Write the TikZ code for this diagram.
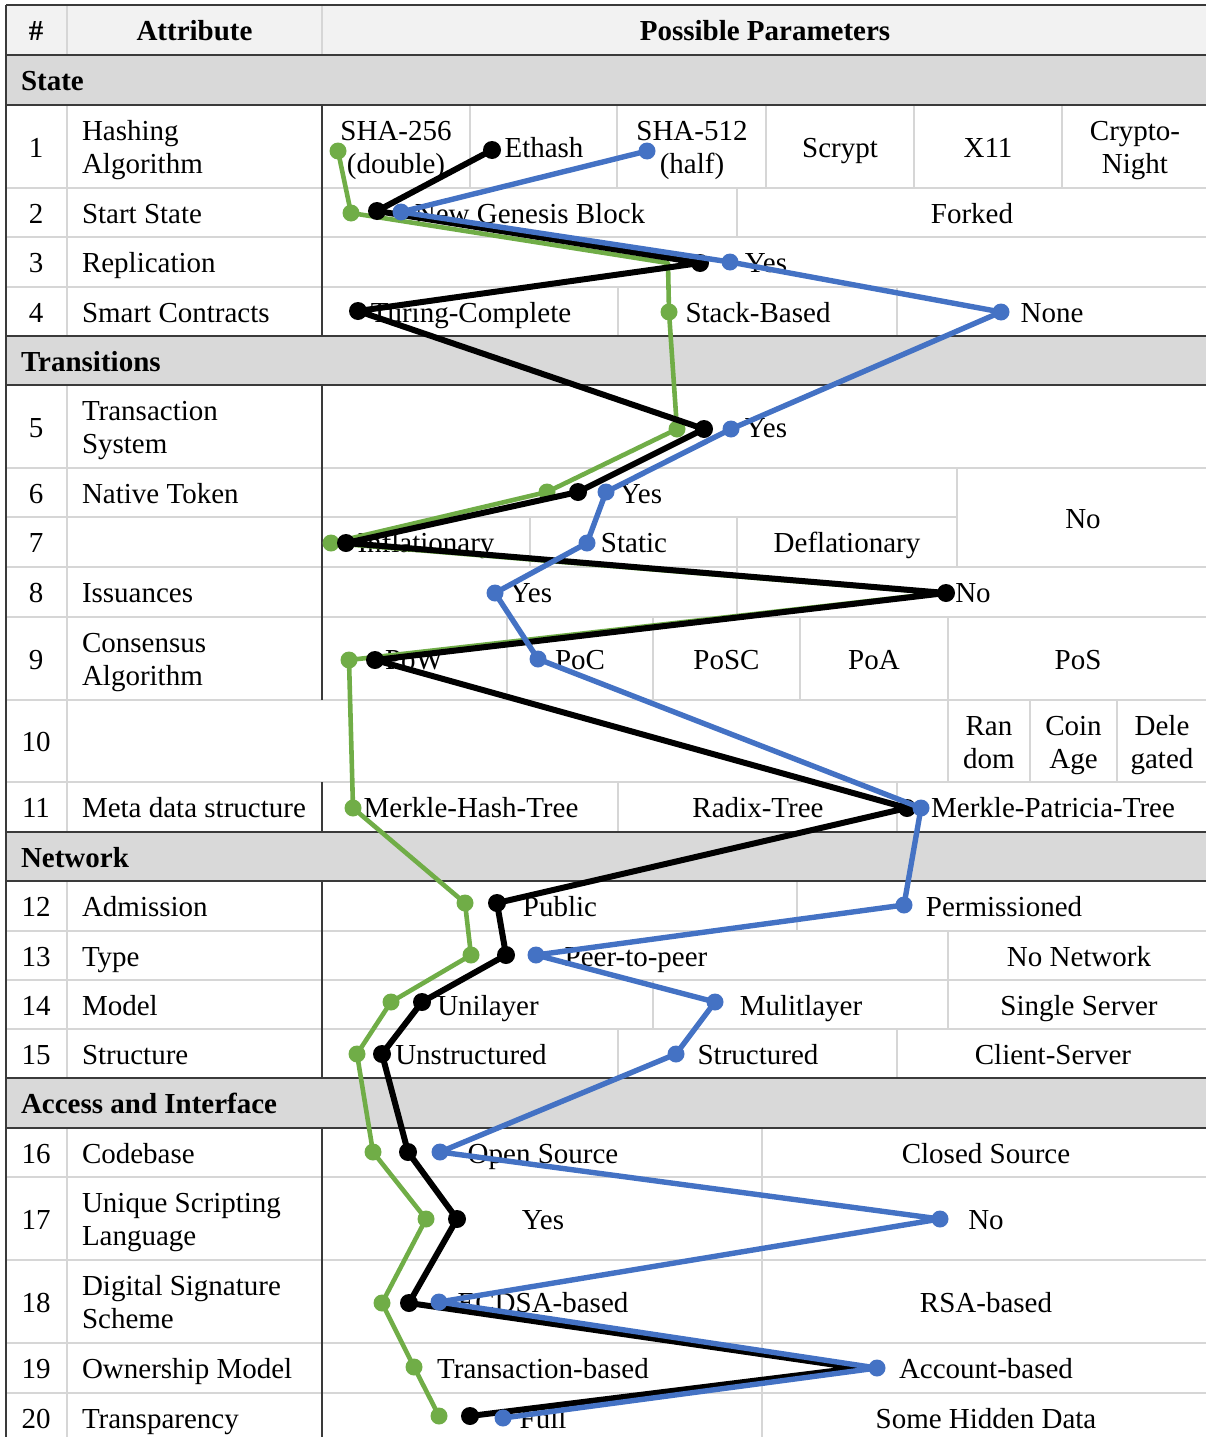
\documentclass[tikz,border=0pt]{standalone}
\usepackage{fontspec}
\setmainfont{Liberation Serif}
\definecolor{ggreen}{HTML}{70AD47}
\definecolor{gblue}{HTML}{4472C4}
\definecolor{hdrfill}{HTML}{F2F2F2}
\definecolor{secfill}{HTML}{D9D9D9}
\definecolor{gridlt}{HTML}{D6D6D6}
\definecolor{griddk}{HTML}{3A3A3A}
\begin{document}
\begin{tikzpicture}[x=1pt,y=-1pt,
  every node/.style={inner sep=0pt,outer sep=0pt},
  cell/.style={font=\fontsize{29}{33}\selectfont,anchor=base},
  lcell/.style={cell,anchor=base west},
  hcell/.style={cell,font=\fontsize{29}{33}\selectfont\bfseries},
  seccell/.style={hcell,anchor=base west},
  lt/.style={draw=gridlt,line width=1.4pt},
  dk/.style={draw=griddk,line width=1.5pt},
  gline/.style={draw=ggreen,line width=4.6pt,line join=round,line cap=round},
  kline/.style={draw=black,line width=6pt,line join=round,line cap=round},
  bline/.style={draw=gblue,line width=5.4pt,line join=round,line cap=round}]
\useasboundingbox (0,0) rectangle (1206,1437);

% ---------- backgrounds ----------
\fill[hdrfill] (6,5) rectangle (1206,55);
\fill[secfill] (6,55) rectangle (1206,105);
\fill[secfill] (6,336) rectangle (1206,385);
\fill[secfill] (6,832) rectangle (1206,881);
\fill[secfill] (6,1078) rectangle (1206,1128);

% ---------- light row rules ----------
\foreach \y in {188,237,287,468,567,617,700,782,931,980,1029,1177,1260,1343,1393}
  \path[lt] (6,\y) -- (1206,\y);
\path[lt] (6,517) -- (957,517);

% ---------- light column rules ----------
\path[lt] (67,5) -- (67,55);
\path[lt] (322,5) -- (322,55);
\path[lt] (67,105) -- (67,336);
\path[lt] (67,385) -- (67,832);
\path[lt] (67,881) -- (67,1078);
\path[lt] (67,1128) -- (67,1445);
% parameter cells
\foreach \x in {470,617,766,914,1062} \path[lt] (\x,105) -- (\x,188);
\path[lt] (737,188) -- (737,237);
\foreach \x in {618,897} \path[lt] (\x,287) -- (\x,336);
\path[lt] (957,468) -- (957,567);
\foreach \x in {530,737} \path[lt] (\x,517) -- (\x,567);
\path[lt] (737,567) -- (737,617);
\foreach \x in {507,653,800,948} \path[lt] (\x,617) -- (\x,700);
\foreach \x in {948,1030,1117} \path[lt] (\x,700) -- (\x,782);
\foreach \x in {618,897} \path[lt] (\x,782) -- (\x,832);
\path[lt] (797,881) -- (797,931);
\path[lt] (948,931) -- (948,980);
\foreach \x in {653,948} \path[lt] (\x,980) -- (\x,1029);
\foreach \x in {618,897} \path[lt] (\x,1029) -- (\x,1078);
\path[lt] (762,1128) -- (762,1445);

% ---------- dark rules ----------
\foreach \y in {5,55,105,336,385,832,881,1078,1128}
  \path[dk] (6,\y) -- (1206,\y);
\path[dk] (6,5) -- (6,1445);
\path[dk] (322,105) -- (322,336);
\path[dk] (322,385) -- (322,700);
\path[dk] (322,782) -- (322,832);
\path[dk] (322,881) -- (322,1078);
\path[dk] (322,1128) -- (322,1445);

% ---------- header and sections ----------
\node[hcell] (hnum) at (36,40.5) {\#};
\node[hcell] (hattr) at (194.5,40.5) {Attribute};
\node[hcell] (hpar) at (765,40.5) {Possible Parameters};
\node[seccell] (sstate) at (21,90.5) {State};
\node[seccell] (strans) at (21,371) {Transitions};
\node[seccell] (snet) at (21,867) {Network};
\node[seccell] (sacc) at (21,1113.5) {Access and Interface};

% ---------- row numbers ----------
\foreach \n/\y in {1/157,2/223,3/272.5,4/322,5/437,6/503,7/552.5,8/602.5,9/669,10/751.5,
  11/817.5,12/916.5,13/966,14/1015,15/1064,16/1163,17/1229,18/1312,19/1378.5,20/1428}
  \node[cell] (num\n) at (36,\y) {\n};

% ---------- attributes ----------
\node[lcell] (a1a) at (82,140.5) {Hashing};
\node[lcell] (a1b) at (82,173.5) {Algorithm};
\node[lcell] (a2) at (82,223) {Start State};
\node[lcell] (a3) at (82,272.5) {Replication};
\node[lcell] (a4) at (82,322) {Smart Contracts};
\node[lcell] (a5a) at (82,420.5) {Transaction};
\node[lcell] (a5b) at (82,453.5) {System};
\node[lcell] (a6) at (82,503) {Native Token};
\node[lcell] (a8) at (82,602.5) {Issuances};
\node[lcell] (a9a) at (82,652.5) {Consensus};
\node[lcell] (a9b) at (82,685.5) {Algorithm};
\node[lcell] (a11) at (82,817.5) {Meta data structure};
\node[lcell] (a12) at (82,916.5) {Admission};
\node[lcell] (a13) at (82,966) {Type};
\node[lcell] (a14) at (82,1015) {Model};
\node[lcell] (a15) at (82,1064) {Structure};
\node[lcell] (a16) at (82,1163) {Codebase};
\node[lcell] (a17a) at (82,1212.5) {Unique Scripting};
\node[lcell] (a17b) at (82,1245.5) {Language};
\node[lcell] (a18a) at (82,1295.5) {Digital Signature};
\node[lcell] (a18b) at (82,1328.5) {Scheme};
\node[lcell] (a19) at (82,1378.5) {Ownership Model};
\node[lcell] (a20) at (82,1428) {Transparency};

% ---------- parameters ----------
\node[cell] (p1a) at (396,140.5) {SHA-256};
\node[cell] (p1b) at (396,173.5) {(double)};
\node[cell] (p1c) at (544,157) {Ethash};
\node[cell] (p1d) at (692,140.5) {SHA-512};
\node[cell] (p1e) at (692,173.5) {(half)};
\node[cell] (p1f) at (840,157) {Scrypt};
\node[cell] (p1g) at (988,157) {X11};
\node[cell] (p1h) at (1135,140.5) {Crypto-};
\node[cell] (p1i) at (1135,173.5) {Night};
\node[cell] (p2a) at (530,223) {New Genesis Block};
\node[cell] (p2b) at (972,223) {Forked};
\node[cell] (p3a) at (766,272.5) {Yes};
\node[cell] (p4a) at (471,322) {Turing-Complete};
\node[cell] (p4b) at (758,322) {Stack-Based};
\node[cell] (p4c) at (1052,322) {None};
\node[cell] (p5a) at (766,437) {Yes};
\node[cell] (p6a) at (641,503) {Yes};
\node[cell] (p6b) at (1083,528) {No};
\node[cell] (p7a) at (426,552.5) {Inflationary};
\node[cell] (p7b) at (634,552.5) {Static};
\node[cell] (p7c) at (847,552.5) {Deflationary};
\node[cell] (p8a) at (531,602.5) {Yes};
\node[cell] (p8b) at (973,602.5) {No};
\node[cell] (p9a) at (414,669) {PoW};
\node[cell] (p9b) at (580,669) {PoC};
\node[cell] (p9c) at (726.5,669) {PoSC};
\node[cell] (p9d) at (874,669) {PoA};
\node[cell] (p9e) at (1078,669) {PoS};
\node[cell] (p10a) at (989,735) {Ran};
\node[cell] (p10b) at (989,768) {dom};
\node[cell] (p10c) at (1073.5,735) {Coin};
\node[cell] (p10d) at (1073.5,768) {Age};
\node[cell] (p10e) at (1162,735) {Dele};
\node[cell] (p10f) at (1162,768) {gated};
\node[cell] (p11a) at (471,817.5) {Merkle-Hash-Tree};
\node[cell] (p11b) at (758,817.5) {Radix-Tree};
\node[cell] (p11c) at (1053,817.5) {Merkle-Patricia-Tree};
\node[cell] (p12a) at (560,916.5) {Public};
\node[cell] (p12b) at (1004,916.5) {Permissioned};
\node[cell] (p13a) at (636,966) {Peer-to-peer};
\node[cell] (p13b) at (1079,966) {No Network};
\node[cell] (p14a) at (488,1015) {Unilayer};
\node[cell] (p14b) at (801,1015) {Mulitlayer};
\node[cell] (p14c) at (1079,1015) {Single Server};
\node[cell] (p15a) at (471,1064) {Unstructured};
\node[cell] (p15b) at (758,1064) {Structured};
\node[cell] (p15c) at (1053,1064) {Client-Server};
\node[cell] (p16a) at (543,1163) {Open Source};
\node[cell] (p16b) at (986,1163) {Closed Source};
\node[cell] (p17a) at (543,1229) {Yes};
\node[cell] (p17b) at (986,1229) {No};
\node[cell] (p18a) at (543,1312) {ECDSA-based};
\node[cell] (p18b) at (986,1312) {RSA-based};
\node[cell] (p19a) at (543,1378.5) {Transaction-based};
\node[cell] (p19b) at (986,1378.5) {Account-based};
\node[cell] (p20a) at (543,1428) {Full};
\node[cell] (p20b) at (986,1428) {Some Hidden Data};

% ---------- profile points ----------
% green profile
\foreach \n/\x/\y in {1/338/151,2/351/213,3/668/263,4/669/312,5/677/429,6/547/492,7/331/543,
  8/940/593,9/349/660,11/353/808,12/465/903,13/471/955,14/391/1002,15/357/1054,
  16/373/1152,17/426/1219,18/382/1303,19/414/1367,20/439/1416}
  \coordinate (g\n) at (\x,\y);
% black profile
\foreach \n/\x/\y in {1/492/150,2/377/211,3/700/263,4/358/311,5/704/429,6/578/492,7/346/543,
  8/946/593,9/375/660,11/907/808,12/497/903,13/506/955,14/422/1002,15/382/1054,
  16/408/1152,17/457/1219,18/409/1303,19/857/1368,20/470/1416}
  \coordinate (k\n) at (\x,\y);
% blue profile
\foreach \n/\x/\y in {1/647/151,2/401/212,3/730/262,4/1001/312,5/731/429,6/606/492,7/587/543,
  8/495/593,9/538/659,11/921/808,12/904/905,13/536/955,14/715/1002,15/676/1054,
  16/440/1152,17/940/1219,18/439/1302,19/877/1368,20/503/1418}
  \coordinate (b\n) at (\x,\y);

% green
\draw[gline] (g1) -- (g2) -- (g3) -- (g4) -- (g5) -- (g6) -- (g7) -- (g8) -- (g9) -- (g11)
  -- (g12) -- (g13) -- (g14) -- (g15) -- (g16) -- (g17) -- (g18) -- (g19) -- (g20);
\foreach \n in {1,2,4,5,6,7,9,11,12,13,14,15,16,17,18,19,20}
  \fill[ggreen] (g\n) circle[radius=8.5pt];
% black
\draw[kline] (k1) -- (k2) -- (k3) -- (k4) -- (k5) -- (k6) -- (k7) -- (k8) -- (k9) -- (k11)
  -- (k12) -- (k13) -- (k14) -- (k15) -- (k16) -- (k17) -- (k18) -- (k19) -- (k20);
\foreach \n in {1,2,3,4,5,6,7,8,9,11,12,13,14,15,16,17,18,20}
  \fill[black] (k\n) circle[radius=9pt];
% blue
\draw[bline] (b1) -- (b2) -- (b3) -- (b4) -- (b5) -- (b6) -- (b7) -- (b8) -- (b9) -- (b11)
  -- (b12) -- (b13) -- (b14) -- (b15) -- (b16) -- (b17) -- (b18) -- (b19) -- (b20);
\foreach \n in {1,2,3,4,5,6,7,8,9,11,12,13,14,15,16,17,18,19,20}
  \fill[gblue] (b\n) circle[radius=8.5pt];
\end{tikzpicture}
\end{document}
